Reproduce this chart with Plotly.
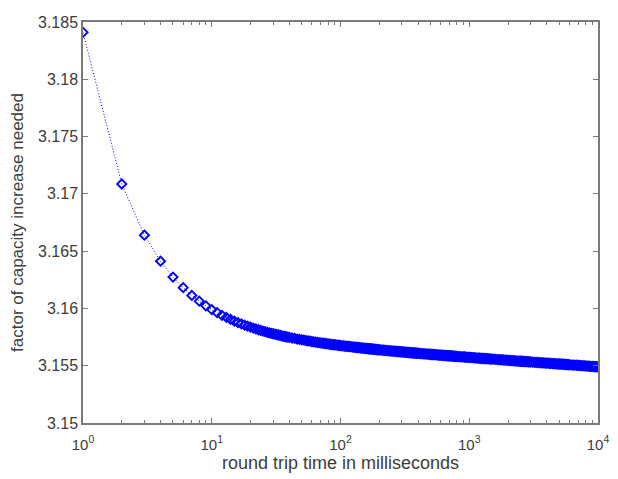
import plotly.graph_objects as go

# round trip time (ms) and factor of capacity increase
rtt_1_40 = [1, 2, 3, 4, 5, 6, 7, 8, 9, 10, 11, 12, 13, 14, 15, 16, 17, 18, 19, 20,
            21, 22, 23, 24, 25, 26, 27, 28, 29, 30, 31, 32, 33, 34, 35, 36, 37, 38, 39, 40]
fac_1_40 = [3.18410, 3.17086, 3.16639, 3.16412, 3.16274, 3.16181, 3.16113, 3.16063, 3.16023, 3.15990,
            3.15963, 3.15940, 3.15921, 3.15904, 3.15889, 3.15876, 3.15865, 3.15854, 3.15845, 3.15836,
            3.15828, 3.15821, 3.15814, 3.15808, 3.15802, 3.15797, 3.15791, 3.15787, 3.15783, 3.15779,
            3.15775, 3.15771, 3.15768, 3.15764, 3.15760, 3.15757, 3.15755, 3.15752, 3.15750, 3.15747]

rtt_42_100 = [42, 44, 46, 48, 50, 52, 54, 56, 58, 60, 62, 64, 66, 68, 70,
              72, 74, 76, 78, 80, 82, 84, 86, 88, 90, 92, 94, 96, 98, 100]
fac_42_100 = [3.15742, 3.15738, 3.15733, 3.15730, 3.15726, 3.15723, 3.15719, 3.15716, 3.15714, 3.15711,
              3.15709, 3.15706, 3.15704, 3.15701, 3.15699, 3.15697, 3.15695, 3.15694, 3.15692, 3.15690,
              3.15688, 3.15687, 3.15685, 3.15684, 3.15683, 3.15681, 3.15680, 3.15678, 3.15677, 3.15676]

rtt_103_200 = [103, 105, 108, 110, 113, 115, 118, 120, 123, 125, 128, 130, 133, 135, 138, 140,
               143, 145, 148, 150, 153, 155, 158, 160, 163, 165, 168, 170, 173, 175, 178, 180,
               183, 185, 188, 190, 193, 195, 198, 200]
fac_103_200 = [3.15674, 3.15673, 3.15671, 3.15670, 3.15669, 3.15668, 3.15666, 3.15666,
               3.15664, 3.15663, 3.15662, 3.15661, 3.15660, 3.15659, 3.15658, 3.15657,
               3.15656, 3.15655, 3.15654, 3.15653, 3.15652, 3.15652, 3.15651, 3.15650,
               3.15649, 3.15648, 3.15648, 3.15647, 3.15646, 3.15646, 3.15645, 3.15644,
               3.15643, 3.15643, 3.15642, 3.15641, 3.15641, 3.15640, 3.15639, 3.15639]

rtt_205_400 = [205, 210, 215, 220, 225, 230, 235, 240, 245, 250, 255, 260, 265, 270, 275, 280,
               285, 290, 295, 300, 305, 310, 315, 320, 325, 330, 335, 340, 345, 350, 355, 360,
               365, 370, 375, 380, 385, 390, 395, 400]
fac_205_400 = [3.15638, 3.15636, 3.15635, 3.15634, 3.15633, 3.15632, 3.15631, 3.15630,
               3.15629, 3.15628, 3.15628, 3.15627, 3.15626, 3.15625, 3.15624, 3.15623,
               3.15623, 3.15622, 3.15621, 3.15620, 3.15620, 3.15619, 3.15618, 3.15618,
               3.15617, 3.15616, 3.15616, 3.15615, 3.15615, 3.15614, 3.15613, 3.15613,
               3.15612, 3.15612, 3.15611, 3.15610, 3.15610, 3.15609, 3.15609, 3.15608]

rtt_410_800 = [410, 420, 430, 440, 450, 460, 470, 480, 490, 500, 510, 520, 530, 540, 550, 560,
               570, 580, 590, 600, 610, 620, 630, 640, 650, 660, 670, 680, 690, 700, 710, 720,
               730, 740, 750, 760, 770, 780, 790, 800]
fac_410_800 = [3.15607, 3.15606, 3.15605, 3.15604, 3.15603, 3.15603, 3.15602, 3.15601,
               3.15600, 3.15599, 3.15598, 3.15598, 3.15597, 3.15596, 3.15596, 3.15595,
               3.15594, 3.15593, 3.15593, 3.15592, 3.15592, 3.15591, 3.15590, 3.15590,
               3.15589, 3.15588, 3.15588, 3.15587, 3.15587, 3.15586, 3.15586, 3.15585,
               3.15585, 3.15584, 3.15584, 3.15583, 3.15582, 3.15582, 3.15582, 3.15581]

rtt_820_2000 = [820, 840, 860, 880, 900, 920, 940, 960, 980, 1000,
                1025, 1050, 1075, 1100, 1125, 1150, 1175, 1200, 1225, 1250,
                1275, 1300, 1325, 1350, 1375, 1400, 1425, 1450, 1475, 1500,
                1550, 1600, 1650, 1700, 1750, 1800, 1850, 1900, 1950, 2000]
fac_820_2000 = [3.15580, 3.15579, 3.15578, 3.15577, 3.15577, 3.15576, 3.15575, 3.15574, 3.15573, 3.15573,
                3.15572, 3.15571, 3.15570, 3.15569, 3.15568, 3.15567, 3.15567, 3.15566, 3.15565, 3.15564,
                3.15564, 3.15563, 3.15562, 3.15562, 3.15561, 3.15560, 3.15560, 3.15559, 3.15558, 3.15558,
                3.15557, 3.15555, 3.15554, 3.15553, 3.15552, 3.15551, 3.15550, 3.15549, 3.15548, 3.15547]

rtt_2050_4000 = [2050, 2100, 2150, 2200, 2250, 2300, 2350, 2400, 2450, 2500,
                 2550, 2600, 2650, 2700, 2750, 2800, 2850, 2900, 2950, 3000,
                 3100, 3200, 3300, 3400, 3500, 3600, 3700, 3800, 3900, 4000]
fac_2050_4000 = [3.15546, 3.15545, 3.15545, 3.15544, 3.15543, 3.15542, 3.15541, 3.15541, 3.15540, 3.15539,
                 3.15539, 3.15538, 3.15537, 3.15536, 3.15536, 3.15535, 3.15535, 3.15534, 3.15533, 3.15533,
                 3.15532, 3.15530, 3.15529, 3.15528, 3.15527, 3.15526, 3.15525, 3.15524, 3.15523, 3.15522]

rtt_4100_10000 = [4100, 4200, 4300, 4400, 4500, 4600, 4700, 4800, 4900, 5000,
                  5100, 5200, 5300, 5400, 5500, 5600, 5700, 5800, 5900, 6000,
                  6200, 6400, 6600, 6800, 7000, 7200, 7400, 7600, 7800, 8000,
                  8200, 8400, 8600, 8800, 9000, 9200, 9400, 9600, 9800, 10000]
fac_4100_10000 = [3.15522, 3.15521, 3.15520, 3.15519, 3.15518, 3.15518, 3.15517, 3.15516, 3.15515, 3.15515,
                  3.15514, 3.15513, 3.15513, 3.15512, 3.15511, 3.15511, 3.15510, 3.15509, 3.15509, 3.15508,
                  3.15507, 3.15506, 3.15505, 3.15504, 3.15503, 3.15502, 3.15501, 3.15500, 3.15499, 3.15498,
                  3.15497, 3.15496, 3.15495, 3.15495, 3.15494, 3.15493, 3.15492, 3.15492, 3.15491, 3.15490]

rtt_ms = (rtt_1_40 + rtt_42_100 + rtt_103_200 + rtt_205_400 + rtt_410_800
          + rtt_820_2000 + rtt_2050_4000 + rtt_4100_10000)
capacity_factor = (fac_1_40 + fac_42_100 + fac_103_200 + fac_205_400 + fac_410_800
                   + fac_820_2000 + fac_2050_4000 + fac_4100_10000)

x_tick_vals = [1, 10, 100, 1000, 10000]
x_tick_text = ["10<sup>0</sup>", "10<sup>1</sup>", "10<sup>2</sup>", "10<sup>3</sup>", "10<sup>4</sup>"]
x_minor_vals = [2, 3, 4, 5, 6, 7, 8, 9,
                20, 30, 40, 50, 60, 70, 80, 90,
                200, 300, 400, 500, 600, 700, 800, 900,
                2000, 3000, 4000, 5000, 6000, 7000, 8000, 9000]
y_tick_vals = [3.15, 3.155, 3.16, 3.165, 3.17, 3.175, 3.18, 3.185]
y_tick_text = ["3.15", "3.155", "3.16", "3.165", "3.17", "3.175", "3.18", "3.185"]

x_title = "round trip time in milliseconds"
y_title = "factor of capacity increase needed"

blue = "#0000ff"
axis_col = "#7a7a7a"
text_col = "#3c3c3c"
font_family = "Liberation Sans, Arial, Helvetica, sans-serif"

fig = go.Figure()
fig.add_trace(go.Scatter(
    x=rtt_ms, y=capacity_factor,
    mode="lines+markers",
    line=dict(color=blue, width=1, dash="1px,2px"),
    marker=dict(symbol="diamond-open", size=7, color=blue, line=dict(width=1.9, color=blue)),
    showlegend=False,
))

# page body adds an 8px offset, so the figure is 8px smaller than the window
fig.update_layout(
    width=610, height=471,
    margin=dict(l=75, r=20, t=6, b=56),
    paper_bgcolor="white", plot_bgcolor="white",
    font=dict(family=font_family, size=16, color=text_col),
)
fig.update_xaxes(
    type="log", range=[0, 4],
    tickvals=x_tick_vals, ticktext=x_tick_text,
    tickfont=dict(size=15),
    ticks="inside", ticklen=5, tickcolor=axis_col, tickwidth=1,
    ticklabelstandoff=7, ticklabeloverflow="allow",
    minor=dict(tickvals=x_minor_vals, ticks="inside", ticklen=3,
               tickcolor=axis_col, tickwidth=1, showgrid=False),
    showline=True, linecolor=axis_col, linewidth=1.5, mirror="ticks",
    showgrid=False, zeroline=False,
    title=dict(text=x_title, font=dict(size=18, color=text_col), standoff=5),
)
fig.update_yaxes(
    range=[3.15, 3.185],
    tickvals=y_tick_vals, ticktext=y_tick_text,
    ticks="inside", ticklen=5, tickcolor=axis_col, tickwidth=1,
    ticklabeloverflow="allow",
    showline=True, linecolor=axis_col, linewidth=1.5, mirror="ticks",
    showgrid=False, zeroline=False,
    title=dict(text=y_title, font=dict(size=17, color=text_col), standoff=10),
)

fig.write_html("out.html")
